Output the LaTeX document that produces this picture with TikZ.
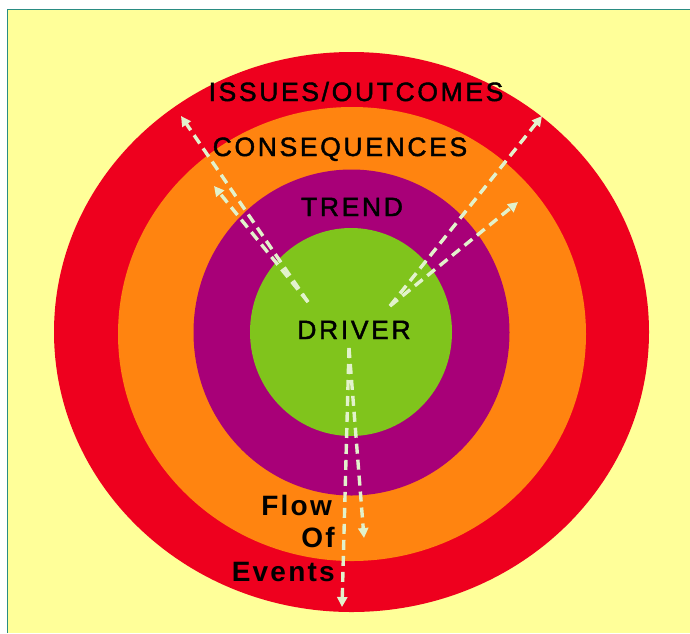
\documentclass[tikz,border=0pt]{standalone}
\usepackage{fontspec}
\setmainfont{Liberation Sans}
\newfontfamily\ringfont[LetterSpace=10,FakeBold=1.6]{Liberation Sans}
\newfontfamily\flowfont[LetterSpace=8]{Liberation Sans}
\usetikzlibrary{arrows.meta}
\definecolor{paper}{RGB}{255,255,153}
\definecolor{frame}{RGB}{42,140,130}
\definecolor{ringR}{RGB}{238,0,30}
\definecolor{ringO}{RGB}{255,132,16}
\definecolor{ringP}{RGB}{168,0,120}
\definecolor{ringG}{RGB}{128,196,28}
\definecolor{flowline}{RGB}{226,242,204}
\tikzset{flow/.style={draw=flowline,line width=3.4pt,dash pattern=on 10pt off 6pt,
		-{Triangle[length=10pt,width=10pt]}},
	ringlabel/.style={font=\ringfont\fontsize{26.5}{30}\selectfont,anchor=base,inner sep=0pt},
	flowlabel/.style={font=\flowfont\bfseries\fontsize{28}{30}\selectfont,anchor=base east,inner sep=0pt},
}

\begin{document}
\begin{tikzpicture}[x=1pt,y=-1pt]
	\useasboundingbox (0,0) rectangle (690,633);
	\fill[paper] (7,9) rectangle (690,633);
	\draw[frame,line width=1.5pt] (7.5,633) -- (7.5,9.5) -- (690,9.5);
	
	% rings
	\fill[ringR] (351.5,332) ellipse (297.5 and 280);
	\fill[ringO] (352,334) ellipse (234 and 227);
	\fill[ringP] (351.5,332.5) ellipse (158 and 163);
	\fill[ringG] (351,332) ellipse (101 and 104);
	
	\node[ringlabel] (issues) at (356,101) {ISSUES/OUTCOMES};
	\node[ringlabel] (conseq) at (340,156) {CONSEQUENCES};
	\node[ringlabel] (trend) at (352,216) {TREND};
	\node[ringlabel] (driver) at (354,339) {DRIVER};
	
	\node[flowlabel] (flow) at (332,515) {Flow};
	\node[flowlabel] (of) at (335,547) {Of};
	\node[flowlabel] (events) at (335,581) {Events};
	
	\coordinate (srcL) at (308,302);
	\coordinate (srcR) at (390,306);
	\coordinate (srcB) at (349,348);
	\coordinate (issueL) at (181,116);
	\coordinate (consL) at (214,186);
	\coordinate (issueR) at (542,116);
	\coordinate (consR) at (518,202);
	\coordinate (eventA) at (342,607);
	\coordinate (eventB) at (364,538);
	
	\draw[flow] (srcL) -- (issueL);
	\draw[flow] (srcL) -- (consL);
	\draw[flow] (srcR) -- (issueR);
	\draw[flow] (srcR) -- (consR);
	\draw[flow] (srcB) -- (eventA);
	\draw[flow] (srcB) -- (eventB);
	%\draw[red] (351.5,332) circle (2);
\end{tikzpicture}
\end{document}
